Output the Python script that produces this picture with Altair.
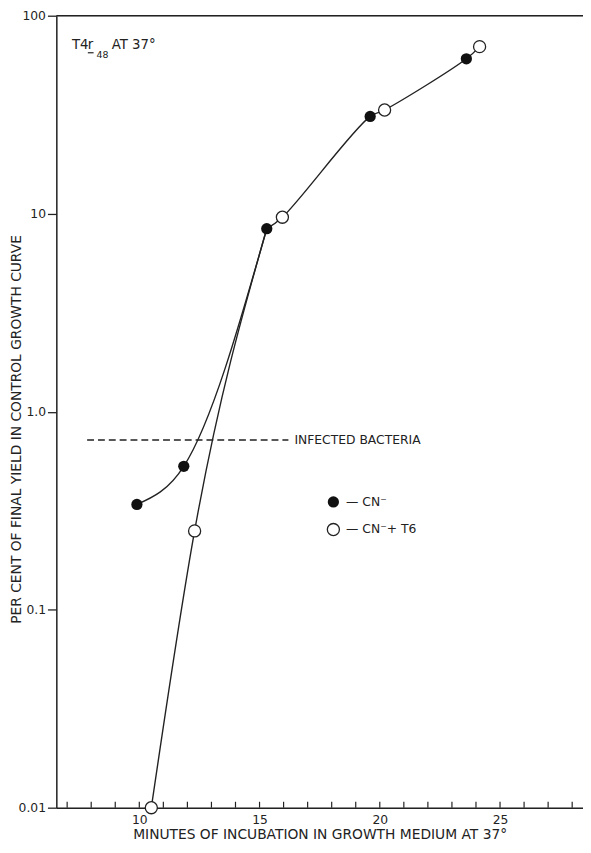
import altair as alt
import pandas as pd

# --- data ---
filled_x = [9.9, 11.85, 15.3, 19.6, 23.6]
filled_y = [0.34, 0.53, 8.4, 31.0, 60.6]
open_x = [10.5, 12.3, 15.95, 20.2, 24.15]
open_y = [0.01, 0.25, 9.6, 33.4, 69.8]

infected_level = 0.72
infected_x = [7.83, 16.2]

y_ticks = [0.01, 0.1, 1, 10, 100]
x_labels = [10, 15, 20, 25]
x_minor = list(range(7, 29))

W, H = 534, 803
FONT = "DejaVu Sans"
INK = "#222"

xs = alt.Scale(domain=[6.55, 28.45], nice=False, zero=False)
ys = alt.Scale(type="log", domain=[0.01, 100], nice=False)


def seg(points, name):
    return [{"x": a, "y": b, "c": name, "o": i} for i, (a, b) in enumerate(points)]


# rising parts of the two curves (they merge at the filled point near 15 min)
low_parts = pd.DataFrame(
    seg(list(zip(filled_x[:3], filled_y[:3])), "filled")
    + seg(list(zip(open_x[:2], open_y[:2])) + [(filled_x[2], filled_y[2])], "open")
)
# common upper curve through all later points, in time order
upper = pd.DataFrame(seg(sorted(list(zip(filled_x[2:], filled_y[2:]))
                                + list(zip(open_x[2:], open_y[2:]))), "upper"))

base_x = alt.X("x:Q", scale=xs,
               axis=alt.Axis(values=x_labels, tickSize=0, grid=False, domainColor=INK,
                             domainWidth=1.5, labelFont=FONT, labelFontSize=12.5,
                             labelColor=INK, labelPadding=6,
                             title="MINUTES OF INCUBATION IN GROWTH MEDIUM AT 37°",
                             titleFont=FONT, titleFontSize=14, titleFontWeight="normal",
                             titleColor=INK, titleBaseline="alphabetic", titleY=31))
base_y = alt.Y("y:Q", scale=ys,
               axis=alt.Axis(values=y_ticks, tickSize=9, tickColor=INK, tickWidth=1.3,
                             grid=False, domainColor=INK, domainWidth=1.5,
                             labelFont=FONT, labelFontSize=12.5, labelColor=INK,
                             labelPadding=2,
                             labelExpr="datum.value == 1 ? '1.0' : datum.value >= 10 ? format(datum.value, 'd') : format(datum.value, '.2~f')",
                             title="PER CENT OF FINAL YIELD IN CONTROL GROWTH CURVE",
                             titleFont=FONT, titleFontSize=14, titleFontWeight="normal",
                             titleColor=INK, titleBaseline="middle", titleX=-40, titleY=419))

low_lines = alt.Chart(low_parts).mark_line(interpolate="monotone", color=INK, strokeWidth=1.4).encode(
    x=base_x, y=base_y, detail="c:N", order="o:Q")
up_line = alt.Chart(upper).mark_line(interpolate="catmull-rom", color=INK, strokeWidth=1.4).encode(
    x="x:Q", y="y:Q", order="o:Q")

filled_df = pd.DataFrame({"x": filled_x, "y": filled_y})
open_df = pd.DataFrame({"x": open_x, "y": open_y})
filled_pts = alt.Chart(filled_df).mark_point(shape="circle", filled=True, size=130,
                                             color="#111", opacity=1).encode(x="x:Q", y="y:Q")
open_pts = alt.Chart(open_df).mark_point(shape="circle", filled=True, size=150, fill="white",
                                         stroke=INK, strokeWidth=1.3, opacity=1).encode(x="x:Q", y="y:Q")

# top frame line at 100
top = alt.Chart(pd.DataFrame({"y": [100]})).mark_rule(color=INK, strokeWidth=1.5).encode(
    y="y:Q", x=alt.value(0), x2=alt.value(W))

# minor x ticks pointing up into the plot
ticks = alt.Chart(pd.DataFrame({"x": x_minor})).mark_rule(color=INK, strokeWidth=1.2).encode(
    x="x:Q", y=alt.value(H), y2=alt.value(H - 6))

# infected bacteria dashed line
inf = alt.Chart(pd.DataFrame({"x": [infected_x[0]], "x2": [infected_x[1]], "y": [infected_level]})).mark_rule(
    color=INK, strokeWidth=1.5, strokeDash=[7, 4]).encode(x="x:Q", x2="x2:Q", y="y:Q")
inf_text = alt.Chart(pd.DataFrame({"x": [16.45], "y": [infected_level], "t": ["INFECTED BACTERIA"]})).mark_text(
    align="left", baseline="middle", font=FONT, fontSize=12.5, color=INK).encode(
    x="x:Q", y="y:Q", text="t:N")

# legend
leg_filled = alt.Chart(pd.DataFrame({"x": [18.07], "y": [0.35]})).mark_point(
    shape="circle", filled=True, size=130, color="#111", opacity=1).encode(x="x:Q", y="y:Q")
leg_open = alt.Chart(pd.DataFrame({"x": [18.07], "y": [0.254]})).mark_point(
    shape="circle", filled=True, size=150, fill="white", stroke=INK, strokeWidth=1.3,
    opacity=1).encode(x="x:Q", y="y:Q")
leg_text = alt.Chart(pd.DataFrame({"x": [18.6, 18.6], "y": [0.35, 0.254],
                                   "t": ["— CN⁻", "— CN⁻+ T6"]})).mark_text(
    align="left", baseline="middle", font=FONT, fontSize=12.5, color=INK).encode(
    x="x:Q", y="y:Q", text="t:N")

# title block "T4 r48 AT 37°"
title_parts = pd.DataFrame({
    "x": [7.2, 7.86, 8.22, 8.85],
    "y": [71.0, 71.0, 63.5, 71.0],
    "t": ["T4", "r", "48", "AT 37°"],
    "fs": [13.5, 13.5, 9.5, 13.5],
})
title_txt = alt.Chart(title_parts).mark_text(align="left", baseline="middle", font=FONT,
                                             color=INK).encode(
    x="x:Q", y="y:Q", text="t:N", size=alt.Size("fs:Q", scale=None, legend=None))
underline = alt.Chart(pd.DataFrame({"x": [7.86], "x2": [8.1], "y": [65.0]})).mark_rule(
    color=INK, strokeWidth=1.2).encode(x="x:Q", x2="x2:Q", y="y:Q")

chart = alt.layer(
    low_lines, up_line, top, ticks, inf, inf_text, filled_pts, open_pts,
    leg_filled, leg_open, leg_text, title_txt, underline
).properties(
    width=W, height=H,
    autosize=alt.AutoSizeParams(type="none"),
    padding={"left": 49, "top": 2, "right": 0, "bottom": 32},
).configure_view(stroke=None).configure(background="white")

chart.save("out.html", embed_options={"renderer": "svg", "actions": False})
